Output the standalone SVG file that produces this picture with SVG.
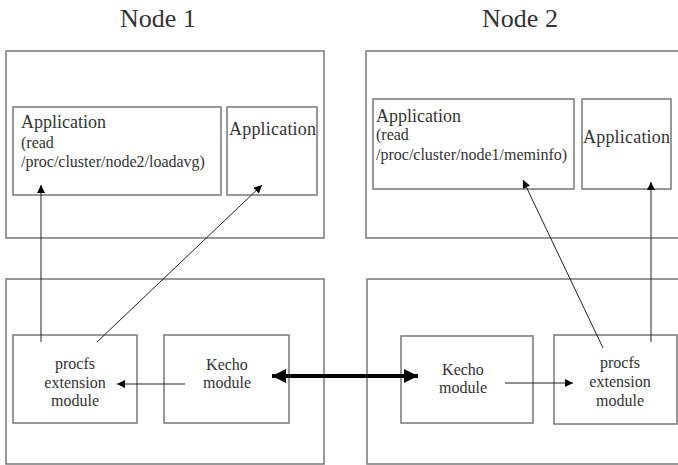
<svg xmlns="http://www.w3.org/2000/svg" width="678" height="465" viewBox="0 0 678 465">
<defs>
<style>
.box{fill:#fff;stroke:#777;stroke-width:1.5}
text{font-family:'Liberation Serif','Times New Roman',Times,serif;fill:#333}
.title{font-size:26px;text-anchor:middle}
.app{font-size:18px}
.small{font-size:16px}
.mod{font-size:16px;text-anchor:middle}
.ln{stroke:#222;stroke-width:1;fill:none}
.thick{stroke:#000;stroke-width:4;fill:none}
</style>
<marker id="ah" viewBox="0 0 10 10" refX="10" refY="5" markerWidth="9" markerHeight="8" markerUnits="userSpaceOnUse" orient="auto"><path d="M0,0 L10,5 L0,10 z" fill="#000"/></marker>
<marker id="ahb" viewBox="0 0 10 10" refX="10" refY="5" markerWidth="17" markerHeight="14" markerUnits="userSpaceOnUse" orient="auto-start-reverse"><path d="M0,0 L10,5 L0,10 z" fill="#000"/></marker>
</defs>
<rect width="678" height="465" fill="#fff"/>
<g font-family="Liberation Serif, Times New Roman, serif">
<text class="title" x="158" y="27">Node 1</text>
<text class="title" x="520" y="27">Node 2</text>
<g id="node1-user"><rect class="box" x="6" y="51" width="318" height="187"/></g>
<g id="node2-user"><rect class="box" x="366" y="51" width="320" height="187"/></g>
<g id="node1-kernel"><rect class="box" x="6" y="279" width="318" height="185"/></g>
<g id="node2-kernel"><rect class="box" x="367" y="279" width="320" height="185"/></g>
<g id="app1">
<rect class="box" x="13" y="107" width="208" height="88"/>
<text class="app" x="21" y="128">Application</text>
<text class="small" x="21" y="148">(read</text>
<text class="small" x="21" y="167">/proc/cluster/node2/loadavg)</text>
</g>
<g id="app2">
<rect class="box" x="227" y="107" width="90" height="88"/>
<text class="app" x="229" y="135" letter-spacing="0.2">Application</text>
</g>
<g id="app3">
<rect class="box" x="373" y="99" width="201" height="90"/>
<text class="app" x="376" y="122">Application</text>
<text class="small" x="376" y="140">(read</text>
<text class="small" x="376" y="160">/proc/cluster/node1/meminfo)</text>
</g>
<g id="app4">
<rect class="box" x="582" y="99" width="89" height="90"/>
<text class="app" x="583" y="143" letter-spacing="0.2">Application</text>
</g>
<g id="procfs1">
<rect class="box" x="13" y="335" width="124" height="88"/>
<text class="mod" x="75" y="369">procfs</text>
<text class="mod" x="75" y="388">extension</text>
<text class="mod" x="75" y="406">module</text>
</g>
<g id="kecho1">
<rect class="box" x="164" y="335" width="125" height="88"/>
<text class="mod" x="227" y="370">Kecho</text>
<text class="mod" x="227" y="388">module</text>
</g>
<g id="kecho2">
<rect class="box" x="401" y="336" width="132" height="87"/>
<text class="mod" x="463" y="375">Kecho</text>
<text class="mod" x="463" y="393">module</text>
</g>
<g id="procfs2">
<rect class="box" x="554" y="335" width="123" height="89"/>
<text class="mod" x="620" y="368">procfs</text>
<text class="mod" x="620" y="387">extension</text>
<text class="mod" x="620" y="406">module</text>
</g>
</g>
<g id="connectors">
<line class="ln" x1="41" y1="342" x2="41" y2="185" marker-end="url(#ah)"/>
<line class="ln" x1="97" y1="342" x2="262" y2="185" marker-end="url(#ah)" stroke="#555"/>
<line class="ln" x1="185" y1="384" x2="117" y2="384" marker-end="url(#ah)"/>
<line class="thick" x1="272" y1="376" x2="418" y2="376" marker-start="url(#ahb)" marker-end="url(#ahb)"/>
<line class="ln" x1="505" y1="383" x2="573" y2="383" marker-end="url(#ah)"/>
<line class="ln" x1="603" y1="348" x2="523" y2="180" marker-end="url(#ah)" stroke="#555"/>
<line class="ln" x1="651" y1="342" x2="651" y2="182" marker-end="url(#ah)"/>
</g>
</svg>
